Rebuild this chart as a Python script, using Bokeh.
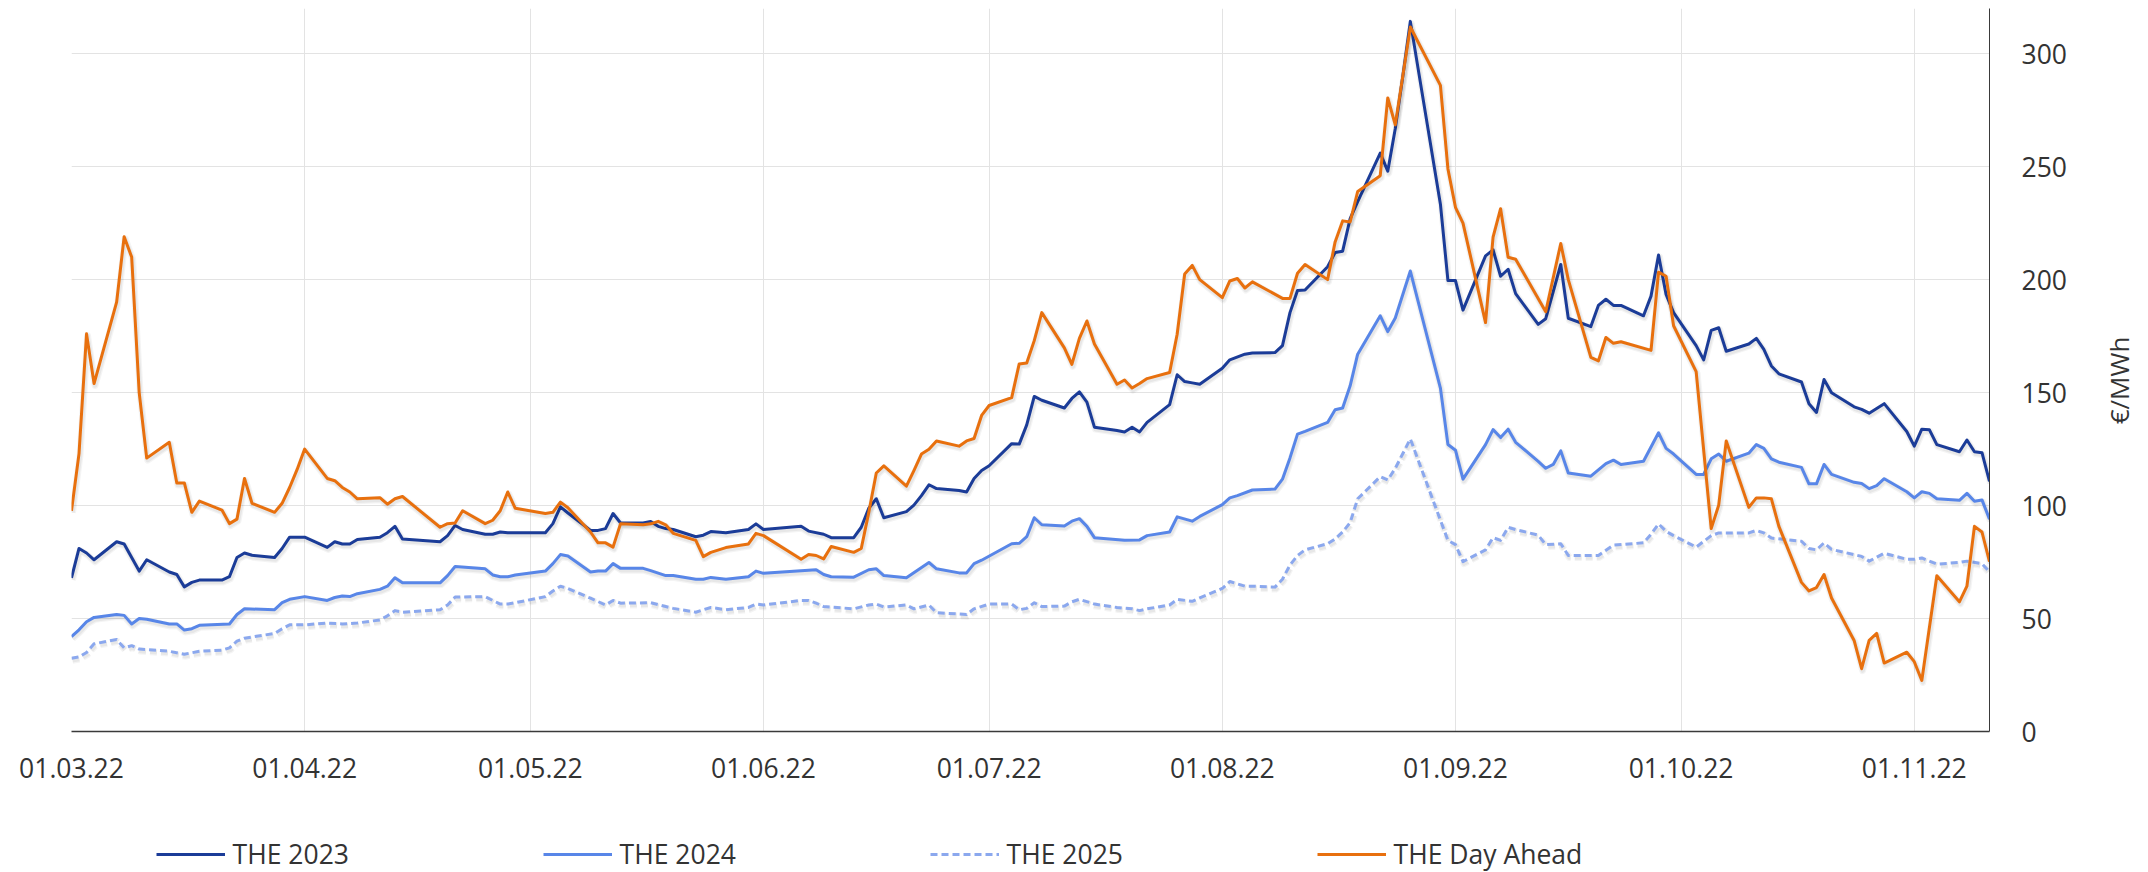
import numpy as np
import pandas as pd
from bokeh.plotting import figure
from bokeh.layouts import column, row
from bokeh.models import (ColumnDataSource, Range1d, FixedTicker, DatetimeTickFormatter,
                          Legend, LegendItem, Label)
from bokeh.embed import file_html
from bokeh.resources import INLINE

# ---------------- data ----------------
dates_2023 = ["03-01","03-02","03-03","03-04","03-07","03-08","03-09","03-10","03-11","03-14","03-15","03-16","03-17","03-18",
    "03-21","03-22","03-23","03-24","03-25","03-28","03-29","03-30","03-31","04-01","04-04","04-05","04-06","04-07","04-08",
    "04-11","04-12","04-13","04-14","04-19","04-20","04-21","04-22","04-25","04-26","04-27","04-28","04-29","05-03","05-04",
    "05-05","05-06","05-09","05-10","05-11","05-12","05-13","05-16","05-17","05-18","05-19","05-20","05-23","05-24","05-25",
    "05-27","05-30","05-31","06-01","06-06","06-07","06-09","06-10","06-13","06-14","06-15","06-16","06-17","06-20","06-21",
    "06-22","06-23","06-24","06-27","06-28","06-29","06-30","07-01","07-04","07-05","07-06","07-07","07-08","07-11","07-12",
    "07-13","07-14","07-15","07-18","07-19","07-20","07-21","07-22","07-25","07-26","07-27","07-28","07-29","08-01","08-02",
    "08-04","08-05","08-08","08-09","08-10","08-11","08-12","08-15","08-16","08-17","08-18","08-19","08-22","08-23","08-24",
    "08-25","08-26","08-30","08-31","09-01","09-02","09-05","09-06","09-07","09-08","09-09","09-12","09-13","09-15","09-16",
    "09-19","09-20","09-21","09-22","09-23","09-26","09-27","09-28","09-29","09-30","10-03","10-04","10-05","10-06","10-07",
    "10-10","10-11","10-12","10-13","10-14","10-17","10-18","10-19","10-20","10-21","10-24","10-25","10-26","10-28","10-31",
    "11-01","11-02","11-03","11-04","11-07","11-08","11-09","11-10","11-11"]
the_2023 = [68,81,79,76,84,83,77,71,76,70.6,69.5,64,66,67,
    67,68.5,77,79,78,77,81,86,86,86,81.5,84,83,83,85,
    86,88,90.8,85.2,84,86.7,91.2,89.4,87.3,87.3,88.3,88,88,88,92,
    99.4,96.7,89,89,89.8,96.5,92.3,92.3,93,90.8,89.8,89.4,86.2,86.9,88.5,
    88,89.4,91.9,89.4,90.8,88.7,87.3,85.8,85.8,90.4,98.8,103,94.6,97.3,100.2,
    104.4,109.2,107.5,106.7,106,112,115.5,117.6,127.4,127.2,135.7,148.3,146.6,143.2,147.4,
    150.3,145.8,134.7,133.2,132.6,134.7,132.6,136.8,144.7,157.9,154.9,154.3,153.7,160.8,164.5,
    167,167.5,167.7,170.8,185.4,195.2,195.4,205.7,212,212.6,227,234.5,256,248,266.9,
    290,314.3,233.4,199.6,199.6,186.5,210.5,213.2,201.5,204.6,193.8,180.2,182.7,206.7,182.9,
    179.2,188.6,191.3,188.6,188.6,184,192.7,210.9,193.4,185.4,170.8,164.5,177.5,178.7,168.3,
    171.5,174,169.1,161.8,158.3,154.7,145.1,141.2,155.8,149.9,143.7,142.6,140.9,145.1,132.8,
    126.3,133.8,133.6,127,123.8,129,123.8,123.4,110.7]

dates_2024 = ["03-01","03-02","03-03","03-04","03-07","03-08","03-09","03-10","03-11","03-14","03-15","03-16","03-17","03-18",
    "03-22","03-23","03-24","03-28","03-29","03-30","04-01","04-04","04-05","04-06","04-07","04-08","04-11","04-12","04-13",
    "04-14","04-19","04-20","04-21","04-25","04-26","04-27","04-28","04-29","05-03","05-04","05-05","05-06","05-09","05-10",
    "05-11","05-12","05-13","05-16","05-17","05-19","05-20","05-23","05-24","05-25","05-27","05-30","05-31","06-01","06-06",
    "06-08","06-09","06-10","06-13","06-15","06-16","06-17","06-20","06-23","06-24","06-27","06-28","06-29","06-30","07-04",
    "07-05","07-06","07-07","07-08","07-11","07-12","07-13","07-14","07-15","07-19","07-21","07-22","07-25","07-26","07-28",
    "07-29","08-01","08-02","08-03","08-05","08-08","08-09","08-10","08-11","08-12","08-15","08-16","08-17","08-18","08-19",
    "08-22","08-23","08-24","08-26","08-30","08-31","09-01","09-02","09-05","09-06","09-07","09-08","09-09","09-12","09-13",
    "09-14","09-15","09-16","09-19","09-21","09-22","09-23","09-26","09-27","09-28","09-29","09-30","10-03","10-04","10-05",
    "10-06","10-07","10-10","10-11","10-12","10-13","10-14","10-17","10-18","10-19","10-20","10-21","10-24","10-25","10-26",
    "10-27","10-28","10-31","11-01","11-02","11-03","11-04","11-07","11-08","11-09","11-10","11-11"]
the_2024 = [42,45,48.6,50.5,51.8,51.4,47.6,50,49.7,47.6,47.6,44.9,45.5,47,
    47.6,51.8,54.3,53.9,57,58.5,59.7,58,59.3,60,59.7,61,62.9,64.3,68,
    65.8,65.8,69,73,72,69.3,68.5,68.5,69.3,71,74.3,78.3,77.7,70.6,71,
    71,74.3,72.2,72.2,71.2,69,69,67.4,67.4,68.2,67.4,68.5,71,70,71.2,
    71.6,69.5,68.5,68.3,71.6,72,69,68,74.8,72,70.2,70.2,74.3,75.8,83.1,
    83.3,86.2,94.6,91.5,91,93.1,94.2,90.8,85.8,84.6,84.8,86.7,88.3,95,93.1,
    95.2,100.4,103.4,104.4,106.9,107.3,111.7,121.1,131.6,132.8,136.8,142.4,143.2,153,167,
    184,177,183,203.8,152,127,124.5,111.7,127,133.6,130.1,133.8,128,119.6,116.5,
    118.2,124.2,114.4,113,118.6,120.1,118.2,119.6,125.9,132.2,125.3,122.8,113.8,113.8,120.7,
    122.8,119.6,123.2,127,125.3,120.7,119.2,116.9,109.6,109.6,118.2,113.8,110.3,109.8,107.5,
    108.8,111.9,106.1,103.4,106.1,105.4,103,102.3,105.4,101.9,102.5,94]

dates_2025 = ["03-01","03-02","03-03","03-04","03-07","03-08","03-09","03-10","03-14","03-16","03-18","03-21","03-22","03-23",
    "03-24","03-28","03-29","03-30","04-01","04-04","04-06","04-08","04-11","04-12","04-13","04-14","04-19","04-20","04-21",
    "04-25","04-26","04-27","04-28","04-29","05-03","05-04","05-05","05-06","05-09","05-11","05-12","05-13","05-17","05-19",
    "05-20","05-23","05-24","05-25","05-27","05-30","05-31","06-01","06-06","06-07","06-08","06-09","06-13","06-15","06-16",
    "06-17","06-20","06-21","06-23","06-24","06-28","06-29","07-01","07-04","07-05","07-06","07-07","07-08","07-11","07-12",
    "07-13","07-15","07-18","07-20","07-21","07-22","07-25","07-26","07-28","07-29","08-01","08-02","08-04","08-05","08-08",
    "08-09","08-10","08-11","08-12","08-15","08-16","08-17","08-18","08-19","08-22","08-23","08-24","08-26","08-30","08-31",
    "09-01","09-02","09-05","09-06","09-07","09-08","09-09","09-12","09-13","09-15","09-16","09-20","09-22","09-26","09-27",
    "09-28","09-29","09-30","10-03","10-05","10-06","10-10","10-11","10-12","10-13","10-17","10-18","10-19","10-20","10-21",
    "10-24","10-25","10-26","10-28","10-31","11-01","11-02","11-04","11-07","11-08","11-10","11-11"]
the_2025 = [32.4,33,35,38.8,40.7,37,38,36.5,35.5,34.2,35.5,36,37,40,
    41.3,43.4,45.5,47.2,47.2,48,47.6,48,49.4,51.2,53.5,52.8,53.9,56,59.5,
    59.7,58,56.4,56.4,57,59.7,62.2,64.3,63.3,59,56,58,56.8,57,55.3,
    54.5,52.8,53.9,54.9,53.9,54.9,56.4,56,58,58,56.8,55.3,54.3,56,56.4,
    55.1,56,54.3,56,52.6,51.8,54.3,56.4,56.4,53.9,54.5,57,55.3,55.5,57.4,
    58.5,56.4,54.9,54.3,53.5,54.3,56,58.5,57.6,59.1,63.3,66.4,64.3,64.3,63.9,
    67.4,73.7,77.9,80.4,83.1,85.2,88.3,92.5,103,112.8,111.3,116.5,129.5,93.5,84.6,
    82.7,75.2,80.4,85.8,84.6,90.4,89.4,86.9,82.7,83.1,77.9,77.9,82.5,83.5,87.3,
    91.9,88.6,86.7,81.6,86.7,87.9,87.9,89,87.9,85.6,84.2,81,80.4,83.5,80.6,
    78.3,77.5,75.4,78.9,76.2,76.2,76.8,74.1,74.8,75.4,74.3,70.6]

dates_da = ["03-01","03-02","03-03","03-04","03-07","03-08","03-09","03-10","03-11","03-14","03-15","03-16","03-17","03-18",
    "03-21","03-22","03-23","03-24","03-25","03-28","03-29","03-30","03-31","04-01","04-04","04-05","04-06","04-07","04-08",
    "04-11","04-12","04-13","04-14","04-19","04-20","04-21","04-22","04-25","04-26","04-27","04-28","04-29","05-03","05-04",
    "05-05","05-06","05-09","05-10","05-11","05-12","05-13","05-16","05-17","05-18","05-19","05-20","05-23","05-24","05-25",
    "05-27","05-30","05-31","06-01","06-06","06-07","06-08","06-09","06-10","06-13","06-14","06-15","06-16","06-17","06-20",
    "06-21","06-22","06-23","06-24","06-27","06-28","06-29","06-30","07-01","07-04","07-05","07-06","07-07","07-08","07-11",
    "07-12","07-13","07-14","07-15","07-18","07-19","07-20","07-21","07-22","07-25","07-26","07-27","07-28","07-29","08-01",
    "08-02","08-03","08-04","08-05","08-09","08-10","08-11","08-12","08-15","08-16","08-17","08-18","08-19","08-22","08-23",
    "08-24","08-26","08-30","08-31","09-01","09-02","09-05","09-06","09-07","09-08","09-09","09-13","09-15","09-16","09-19",
    "09-20","09-21","09-22","09-23","09-27","09-28","09-29","09-30","10-03","10-05","10-06","10-07","10-10","10-11","10-12",
    "10-13","10-14","10-17","10-18","10-19","10-20","10-21","10-24","10-25","10-26","10-27","10-28","10-31","11-01","11-02",
    "11-04","11-07","11-08","11-09","11-10","11-11"]
the_day_ahead = [97.7,123,176,154,190,219,210,150,121,128,110,110,97,102,
    98,92,94,112,101,97,101,108,116,125,112,111,108,106,103,
    103.5,100.6,103,104,90.4,92,92.3,97.7,92,93.5,97.7,106,98.8,96.5,97,
    101.5,99,88.3,83.5,83.5,81.6,92,91.5,91.9,93,91.5,87.7,84.6,77.4,79.3,
    81.4,83,87.7,86.7,76.2,78.3,77.9,76.4,81.9,79.3,81,97,114.4,117.6,108.6,
    115.5,122.8,124.9,128.6,126.3,128.6,129.7,139.9,144.3,147.8,162.7,163.1,173,185.4,169.8,
    162.5,174,181.7,171.5,153.7,155.6,152,154,156.2,158.9,175.8,202.5,206.3,200,192,
    199.4,200.5,196.3,199,191.7,191.7,202.8,206.7,200,216.7,226,225.5,239,246,280.4,
    268.5,311.8,286,249,232,225,181,218.8,231.4,209.9,209,185.8,216,200,165.6,
    164,174.4,171.8,172.5,168.7,203.3,201.5,179.6,159.3,89.8,100.2,128.6,99.2,103.4,103.4,
    103,90.8,66,62.2,63.7,69.5,59.1,40.3,27.8,40.3,43.4,30.3,35.1,30.9,22.6,
    68.9,57.4,64.3,90.8,88.3,75.2]

series_names = ["THE 2023", "THE 2024", "THE 2025", "THE Day Ahead"]
x_tick_dates = ["2022-03-01", "2022-04-01", "2022-05-01", "2022-06-01", "2022-07-01",
                "2022-08-01", "2022-09-01", "2022-10-01", "2022-11-01"]
y_tick_values = [0, 50, 100, 150, 200, 250, 300]
x_start, x_end = "2022-03-01", "2022-11-11"
y_start, y_end = 0, 320
y_unit = "€/MWh"

# ---------------- helpers ----------------
def ms(d):
    return pd.Timestamp(d).value / 1e6

def to_dt(md_list):
    return pd.to_datetime(["2022-" + d for d in md_list])

FONT = "Open Sans"
FSIZE = "26.5px"
TXT = "#333333"
GRID = "#e3e3e3"

W_TOTAL = 2148
W_UNIT = 60                      # strip on the right holding the unit title
W_MAIN = W_TOTAL - W_UNIT
H_MAIN, H_LEG = 800, 72
FL, FT, FR, FB = 71, 8, 1989, 731   # frame edges in page pixels
t0, t1 = ms(x_start), ms(x_end)
px_per_unit = (FB - FT) / (y_end - y_start)

p = figure(width=W_MAIN, height=H_MAIN, x_axis_type="datetime", y_axis_location="right",
           x_range=Range1d(t0, t1), y_range=Range1d(y_start, y_end),
           output_backend="svg", toolbar_location=None,
           min_border_left=FL, min_border_right=W_MAIN - FR, min_border_top=FT,
           min_border_bottom=H_MAIN - FB)
p.outline_line_color = None
p.background_fill_color = "white"
p.border_fill_color = "white"

# shadow ranges (shift 1px right, 2px down)
px_day = (FR - FL) / ((t1 - t0) / 86400000.0)
x_off = 1.0 / px_day * 86400000.0
y_off = 2.0 / px_per_unit
p.extra_x_ranges = {"shx": Range1d(t0 - x_off, t1 - x_off)}
p.extra_y_ranges = {"shy": Range1d(y_start + y_off, y_end + y_off)}

# axes
xt = FixedTicker(ticks=[ms(d) for d in x_tick_dates])
p.xaxis.ticker = xt
fmt = "%d.%m.%y"
p.xaxis.formatter = DatetimeTickFormatter(days=fmt, months=fmt, years=fmt, hours=fmt,
                                          minutes=fmt, seconds=fmt, milliseconds=fmt,
                                          microseconds=fmt, minsec=fmt, hourmin=fmt)
p.yaxis.ticker = FixedTicker(ticks=y_tick_values)
for ax in (p.xaxis[0], p.yaxis[0]):
    ax.major_tick_line_color = None
    ax.minor_tick_line_color = None
    ax.major_tick_out = 0
    ax.major_tick_in = 0
    ax.minor_tick_out = 0
    ax.minor_tick_in = 0
    ax.major_label_text_font = FONT
    ax.major_label_text_font_size = FSIZE
    ax.major_label_text_color = TXT
    ax.major_label_text_font_style = "normal"
p.xaxis.axis_line_color = "#3a3a3a"
p.xaxis.axis_line_width = 1.5
p.xaxis.major_label_standoff = 26
yax = p.yaxis[0]
yax.axis_line_color = "#3a3a3a"
yax.axis_line_width = 1
yax.major_label_standoff = 32

p.xgrid.ticker = xt
p.xgrid.grid_line_color = GRID
p.xgrid.grid_line_width = 1
p.ygrid.ticker = FixedTicker(ticks=y_tick_values)
p.ygrid.grid_line_color = GRID
p.ygrid.grid_line_width = 1

# unit title strip (rotated text reading bottom-to-top)
u = figure(width=W_UNIT, height=H_MAIN, output_backend="svg", toolbar_location=None,
           min_border_left=0, min_border_right=0, min_border_top=FT,
           min_border_bottom=H_MAIN - FB, x_axis_location=None, y_axis_location=None,
           x_range=Range1d(0, 1), y_range=Range1d(0, 1))
u.outline_line_color = None
u.grid.visible = False
u.background_fill_color = "white"
u.border_fill_color = "white"
unit_center_x, unit_center_y = 2118, 380     # page pixels of the title centre
u.add_layout(Label(x=unit_center_x - W_MAIN, y=FB - unit_center_y,
                   x_units="screen", y_units="screen", text=y_unit, angle=np.pi / 2,
                   text_align="center", text_baseline="middle", text_font=FONT,
                   text_font_size="26px", text_color=TXT))

# legend strip: a second figure whose view range lies far above the data,
# so its line renderers only serve as legend entries
q = figure(width=W_TOTAL, height=H_LEG, x_range=p.x_range, y_range=Range1d(10000, 10001),
           output_backend="svg", toolbar_location=None,
           min_border_left=FL, min_border_right=W_TOTAL - FR, min_border_top=0,
           min_border_bottom=0, x_axis_location=None, y_axis_location=None)
q.outline_line_color = None
q.grid.visible = False
q.background_fill_color = "white"
q.border_fill_color = "white"

# lines
specs = [
    (dates_2023, the_2023, "#1b3c98", "solid"),
    (dates_2024, the_2024, "#5886e8", "solid"),
    (dates_2025, the_2025, "#8ba8ee", "7 4"),
    (dates_da, the_day_ahead, "#e8700e", "solid"),
]
items = []
for name, (dts, vals, col, dash) in zip(series_names, specs):
    src = ColumnDataSource(dict(x=to_dt(dts), y=vals))
    p.line("x", "y", source=src, color="black", alpha=0.045, line_width=7,
           line_dash=dash, x_range_name="shx", y_range_name="shy", line_join="round")
    p.line("x", "y", source=src, color="black", alpha=0.05, line_width=4.5,
           line_dash=dash, x_range_name="shx", y_range_name="shy", line_join="round")
    p.line("x", "y", source=src, color=col, line_width=3, line_dash=dash, line_join="round")
    rq = q.line("x", "y", source=src, color=col, line_width=3, line_dash=dash)
    items.append(LegendItem(label=name, renderers=[rq]))

legend = Legend(items=items, orientation="horizontal", location=(155.6 - FL, 0),
                padding=0, spacing=0, margin=0, glyph_width=69, glyph_height=32,
                label_standoff=8, label_width=310, label_height=32,
                label_text_font=FONT, label_text_font_size=FSIZE, label_text_color=TXT,
                border_line_color=None, background_fill_alpha=0)
q.add_layout(legend)

layout = column(row(p, u, spacing=0), q, spacing=0)
open("out.html", "w").write(file_html(layout, INLINE))
